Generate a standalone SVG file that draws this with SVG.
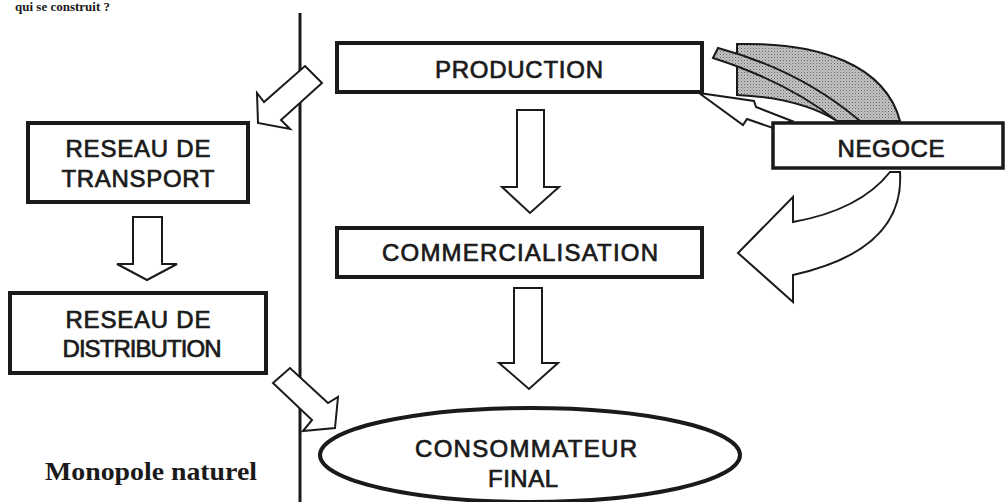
<svg xmlns="http://www.w3.org/2000/svg" width="1008" height="502" viewBox="0 0 1008 502">
<style>
.box{fill:#fff;stroke:#1a1a1a;stroke-width:4}
.arr{fill:#fff;stroke:#1a1a1a;stroke-width:2;stroke-linejoin:miter}
.lbl{font-family:"Liberation Sans",Arial,sans-serif;font-size:24px;fill:#1a1a1a;stroke:#1a1a1a;stroke-width:0.7;text-anchor:middle}
.serif{font-family:"Liberation Serif","Times New Roman",serif;font-weight:bold;fill:#1a1a1a}
.hatch{fill:url(#dots);stroke:#1a1a1a;stroke-width:2}
</style>
<defs>
<pattern id="dots" width="3" height="3" patternUnits="userSpaceOnUse">
<rect width="3" height="3" fill="#c4c4c4"/>
<rect width="1" height="1" fill="#666"/>
<rect x="1.5" y="1.5" width="1" height="1" fill="#888"/>
</pattern>
</defs>
<rect width="1008" height="502" fill="#fff"/>
<text class="serif" x="15" y="11" font-size="13">qui se construit ?</text>
<line x1="300" y1="13" x2="300" y2="502" stroke="#1a1a1a" stroke-width="3"/>
<g id="connectors">
<polygon class="arr" points="305,66 322,83 281,120 290,129 258,123 257,93 264,102"/>
<polygon class="arr" points="517,110 544,110 544,187 559,187 530,213 502,187 517,187"/>
<polygon class="arr" points="133,217 162,217 162,264 177,264 147,280 117,264 133,264"/>
<polygon class="arr" points="514,288 542,288 542,363 558,363 529,389 499,363 514,363"/>
<polygon class="arr" points="273,383 290,368 328,403 338,397 335,428 303,431 312,420"/>
<polygon class="arr" points="699,93 754,101 756,107 792,121 773,128 747,119 743,125"/>
<path class="arr" d="M890,172 Q860,210 793,222 L793,197 L738,253 L793,302 L793,275 Q905,250 900,172 Z"/>
<path class="hatch" d="M737,44 C820,42 885,65 900,121 L837,121 Q800,98 737,95 Z"/>
<path class="hatch" d="M718,48 Q800,70 860,121 L837,121 Q788,82 713,58 Z"/>
</g>
<g id="production">
<rect class="box" x="337" y="43" width="365" height="49"/>
<text class="lbl" x="519" y="78" textLength="168" lengthAdjust="spacing">PRODUCTION</text>
</g>
<g id="commercialisation">
<rect class="box" x="337" y="228" width="365" height="49"/>
<text class="lbl" x="520" y="261" textLength="276" lengthAdjust="spacing">COMMERCIALISATION</text>
</g>
<g id="negoce">
<rect class="box" x="773" y="123" width="230" height="45" style="stroke-width:3.5"/>
<text class="lbl" x="891" y="157" textLength="107" lengthAdjust="spacing">NEGOCE</text>
</g>
<g id="transport">
<rect class="box" x="28" y="123" width="220" height="79"/>
<text class="lbl" x="138" y="157" textLength="145" lengthAdjust="spacing">RESEAU DE</text>
<text class="lbl" x="138" y="187" textLength="153" lengthAdjust="spacing">TRANSPORT</text>
</g>
<g id="distribution">
<rect class="box" x="10" y="293" width="256" height="80"/>
<text class="lbl" x="138" y="328" textLength="145" lengthAdjust="spacing">RESEAU DE</text>
<text class="lbl" x="142" y="357" textLength="159" lengthAdjust="spacing">DISTRIBUTION</text>
</g>
<g id="consommateur">
<ellipse class="box" cx="530" cy="455" rx="210" ry="47"/>
<text class="lbl" x="526" y="457" textLength="222" lengthAdjust="spacing">CONSOMMATEUR</text>
<text class="lbl" x="523" y="487" textLength="70" lengthAdjust="spacing">FINAL</text>
</g>
<g id="monopole">
<text class="serif" x="45" y="480" font-size="25" textLength="212" lengthAdjust="spacingAndGlyphs">Monopole naturel</text>
</g>
</svg>
